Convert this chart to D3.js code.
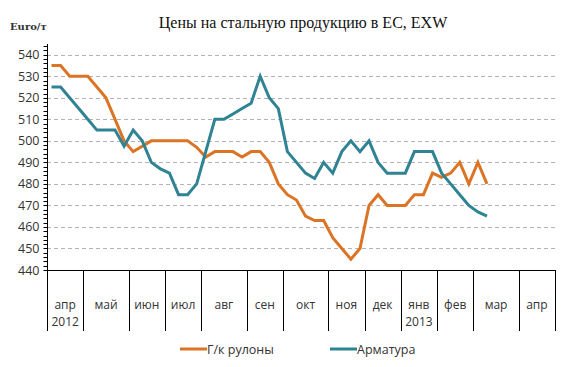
<!DOCTYPE html>
<html>
<head>
    <meta charset="UTF-8">
    <title>Цены на стальную продукцию</title>
    <script src="https://cdnjs.cloudflare.com/ajax/libs/d3/7.8.5/d3.min.js"></script>
    <style>
        body { margin: 0; background: #fff; }
    </style>
</head>
<body>
    <script>
        // month groups (weeks per month) and weekly prices, Euro/t
        var months = ["апр", "май", "июн", "июл", "авг", "сен", "окт", "ноя", "дек", "янв", "фев", "мар", "апр"];
        var monthWeeks = [4, 5, 4, 4, 5, 4, 5, 4, 4, 4, 4, 5, 4];
        var yearLabels = {0: "2012", 9: "2013"};
        var coils = [535, 535, 530, 530, 530, 525, 520, 510, 500, 495, 497.5, 500, 500, 500, 500, 500,
            497, 492.5, 495, 495, 495, 492.5, 495, 495, 490, 480, 475, 472.5, 465, 463, 463, 455,
            450, 445, 450, 470, 475, 470, 470, 470, 475, 475, 485, 483, 485, 490, 480, 490, 480];
        var rebar = [525, 525, 520, 515, 510, 505, 505, 505, 497.5, 505, 500, 490, 487, 485, 475, 475,
            480, 495, 510, 510, 512.5, 515, 517.5, 530, 520, 515, 495, 490, 485, 482.5, 490, 485,
            495, 500, 495, 500, 490, 485, 485, 485, 495, 495, 495, 485, 480, 475, 470, 467, 465];
        var yTicks = d3.range(440, 541, 10);

        var w = 580, h = 367;
        var pLeft = 47, pRight = 555, pTop = 44, pBottom = 270;
        var totalWeeks = d3.sum(monthWeeks);
        var orange = "#dc7425", teal = "#2f8393";

        var svg = d3.select("body").append("svg")
                .attr("width", w)
                .attr("height", h);

        var x = d3.scaleLinear().domain([0, totalWeeks]).range([pLeft, pRight]);
        var y = d3.scaleLinear().domain([440, 545]).range([pBottom, pTop]);

        // gridlines
        svg.selectAll("line.grid")
                .data(yTicks.filter(function (d) { return d > 440; }))
                .enter().append("line")
                .attr("class", "grid")
                .attr("x1", pLeft).attr("x2", pRight)
                .attr("y1", function (d) { return Math.round(y(d)) + 0.5; })
                .attr("y2", function (d) { return Math.round(y(d)) + 0.5; })
                .attr("stroke", "#b3b3b3")
                .attr("stroke-dasharray", "4,3");

        // y axis with minor ticks
        var yAxis = svg.append("g").attr("transform", "translate(" + (pLeft + 0.5) + ",0)");
        yAxis.append("line").attr("y1", pTop).attr("y2", pBottom).attr("stroke", "#000");
        yAxis.selectAll("line.minor")
                .data(d3.range(440, 545, 2))
                .enter().append("line")
                .attr("x1", -4).attr("x2", 0)
                .attr("y1", function (d) { return Math.round(y(d)) + 0.5; })
                .attr("y2", function (d) { return Math.round(y(d)) + 0.5; })
                .attr("stroke", "#000");
        yAxis.selectAll("text")
                .data(yTicks)
                .enter().append("text")
                .attr("x", -8)
                .attr("y", function (d) { return y(d) + 4.5; })
                .attr("text-anchor", "end")
                .attr("font-family", "Open Sans, sans-serif")
                .attr("font-size", 12.5)
                .attr("fill", "#333")
                .text(function (d) { return d; });

        // x axis: month boundaries
        var bounds = [0];
        monthWeeks.forEach(function (n, i) { bounds.push(bounds[i] + n); });
        svg.append("line")
                .attr("x1", pLeft).attr("x2", pRight)
                .attr("y1", pBottom + 0.5).attr("y2", pBottom + 0.5)
                .attr("stroke", "#000");
        svg.selectAll("line.bound")
                .data(bounds)
                .enter().append("line")
                .attr("class", "bound")
                .attr("x1", function (d) { return Math.round(x(d)) + 0.5; })
                .attr("x2", function (d) { return Math.round(x(d)) + 0.5; })
                .attr("y1", pBottom).attr("y2", 331)
                .attr("stroke", "#000");
        var mLabels = svg.selectAll("text.month")
                .data(months)
                .enter().append("text")
                .attr("class", "month")
                .attr("text-anchor", "middle")
                .attr("font-family", "Open Sans, sans-serif")
                .attr("font-size", 12)
                .attr("fill", "#333");
        mLabels.append("tspan")
                .attr("x", function (d, i) { return x((bounds[i] + bounds[i + 1]) / 2); })
                .attr("y", 309)
                .text(function (d) { return d; });
        mLabels.append("tspan")
                .attr("x", function (d, i) { return x((bounds[i] + bounds[i + 1]) / 2); })
                .attr("y", 326)
                .text(function (d, i) { return yearLabels[i] || ""; });

        // lines
        var line = d3.line()
                .x(function (d, i) { return x(i + 0.5); })
                .y(function (d) { return y(d); });
        svg.append("path").datum(coils)
                .attr("d", line)
                .attr("fill", "none")
                .attr("stroke", orange)
                .attr("stroke-width", 3);
        svg.append("path").datum(rebar)
                .attr("d", line)
                .attr("fill", "none")
                .attr("stroke", teal)
                .attr("stroke-width", 3);

        // titles
        svg.append("text")
                .attr("x", 303).attr("y", 28)
                .attr("text-anchor", "middle")
                .attr("font-family", "Liberation Serif, serif")
                .attr("font-size", 16)
                .attr("fill", "#111")
                .text("Цены на стальную продукцию в ЕС, EXW");
        svg.append("text")
                .attr("x", 10).attr("y", 30)
                .attr("font-family", "DejaVu Serif, serif")
                .attr("font-weight", "bold")
                .attr("font-size", 10)
                .attr("fill", "#333")
                .text("Euro/т");

        // legend
        var legend = [["Г/к рулоны", orange, 180], ["Арматура", teal, 330]];
        legend.forEach(function (l) {
            svg.append("line")
                    .attr("x1", l[2]).attr("x2", l[2] + 27)
                    .attr("y1", 349).attr("y2", 349)
                    .attr("stroke", l[1]).attr("stroke-width", 3);
            svg.append("text")
                    .attr("x", l[2] + 27).attr("y", 353.5)
                    .attr("font-family", "Open Sans, sans-serif")
                    .attr("font-size", 12.5)
                    .attr("fill", "#333")
                    .text(l[0]);
        });
    </script>
</body>
</html>
